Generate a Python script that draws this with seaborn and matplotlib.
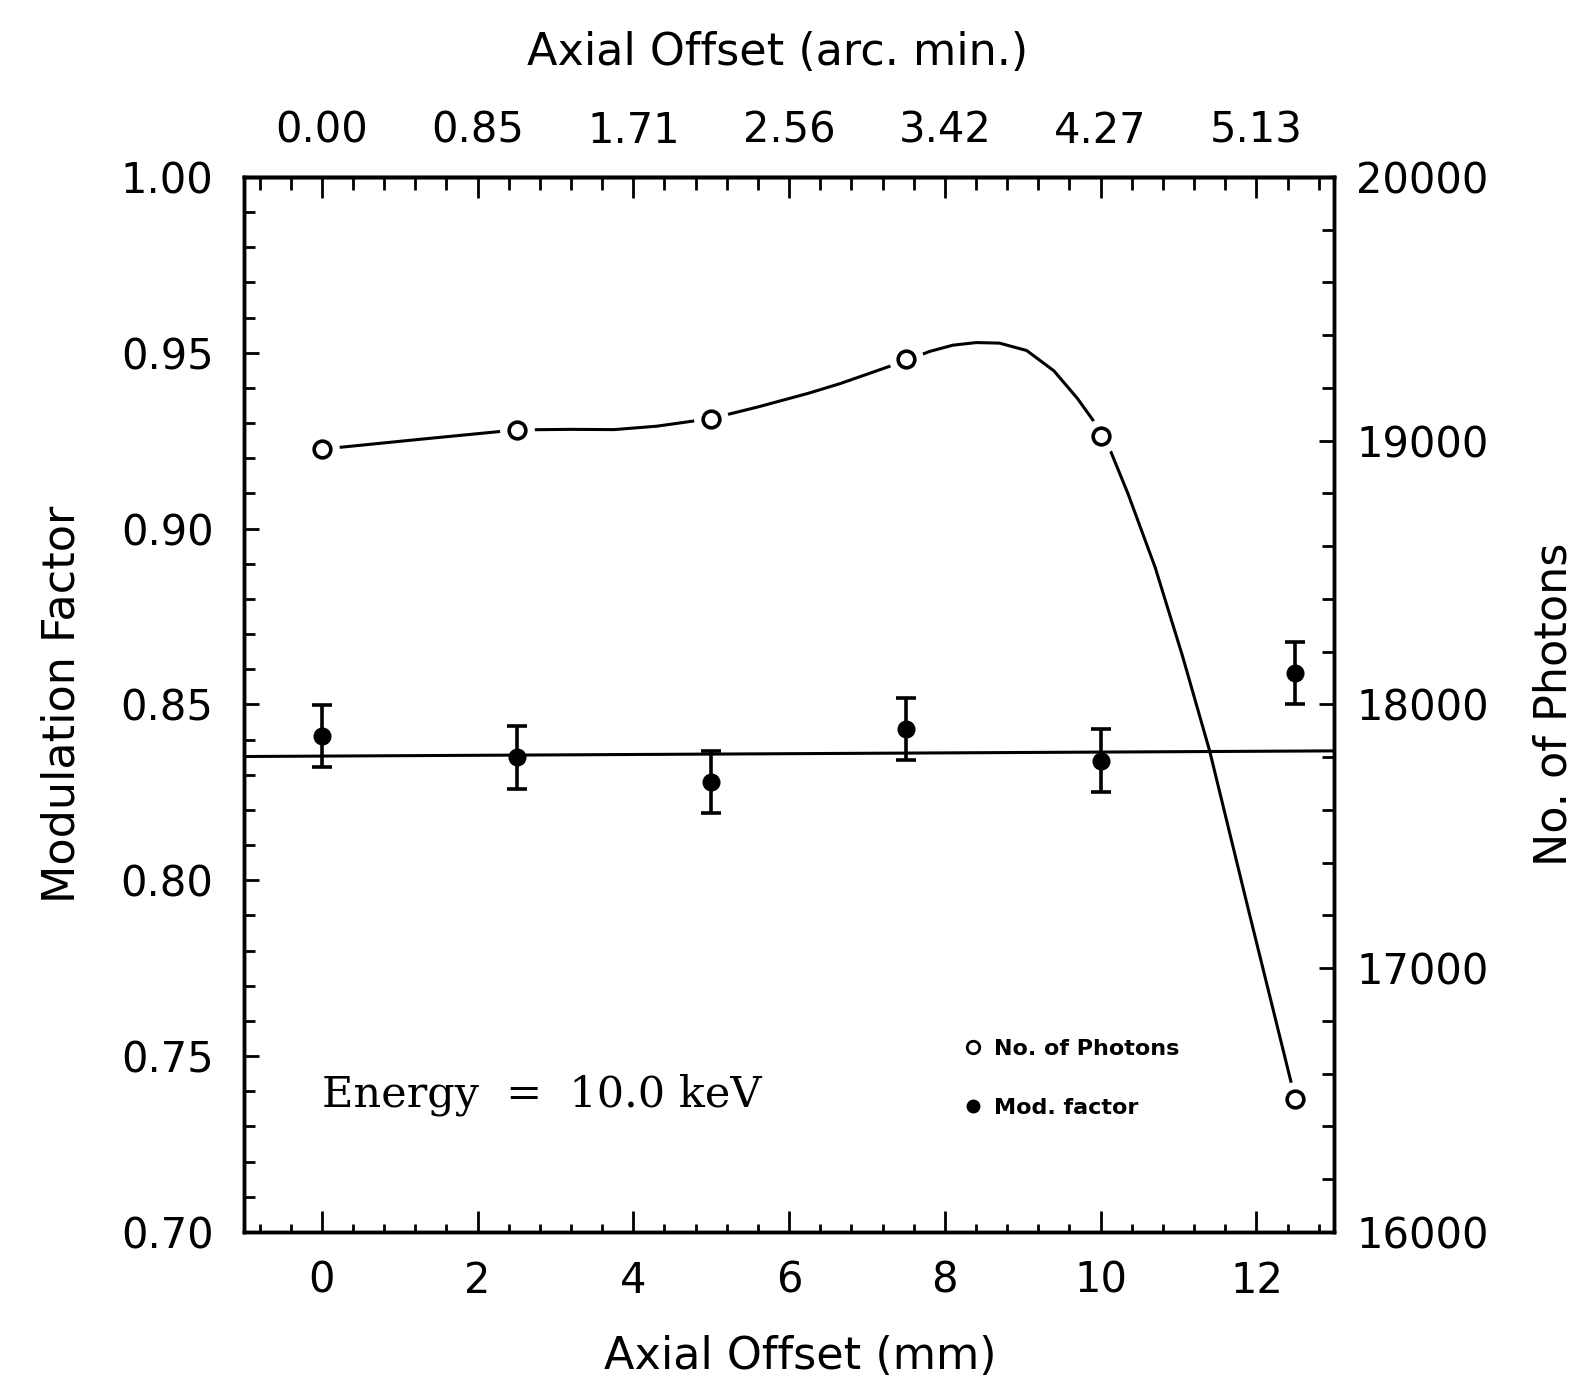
import numpy as np
import pandas as pd
import matplotlib
matplotlib.use("Agg")
import matplotlib.pyplot as plt
import seaborn as sns
from matplotlib.lines import Line2D
from matplotlib.ticker import MultipleLocator

# measured points (axial offset in mm)
offset_mm = [0.0, 2.5, 5.0, 7.5, 10.0, 12.5]
mod_factor = [0.841, 0.835, 0.828, 0.843, 0.834, 0.859]
mod_err = [0.0089, 0.0089, 0.0088, 0.0088, 0.0090, 0.0089]
photons = [18968, 19041, 19084, 19309, 19017, 16503]

# straight fit to the modulation factor
fit_x = [-1.0, 13.0]
fit_y = [0.8352, 0.8368]

# smooth curve through the photon counts
curve_x = [0.0, 1.25, 2.5, 3.2, 3.75, 4.3, 5.0, 5.6, 6.25, 6.65, 7.0, 7.55,
           7.8, 8.1, 8.4, 8.7, 9.05, 9.4, 9.7, 10.05, 10.35, 10.7, 11.05,
           11.4, 11.9, 12.5]
curve_n = [18968, 19005, 19041, 19043, 19042, 19055, 19084, 19128, 19180,
           19216, 19252, 19309, 19338, 19362, 19372, 19370, 19342, 19265,
           19161, 19017, 18800, 18520, 18185, 17824, 17219, 16503]

top_ticks_mm = [0, 2, 4, 6, 8, 10, 12]
top_tick_labels = ["0.00", "0.85", "1.71", "2.56", "3.42", "4.27", "5.13"]

sns.set_style("ticks")
plt.rcParams['font.family'] = ['DejaVu Sans']
for key in ['text.color', 'axes.labelcolor', 'xtick.color', 'ytick.color', 'axes.edgecolor']:
    plt.rcParams[key] = 'black'

fig = plt.figure(figsize=(15.79, 13.90), dpi=100)
ax = fig.add_axes([0.1545, 0.1137, 0.6905, 0.759])

sns.lineplot(x=fit_x, y=fit_y, ax=ax, color='black', lw=2.2, zorder=2)
ax.errorbar(offset_mm, mod_factor, yerr=mod_err, fmt='o', color='black',
            ms=12, capsize=7, elinewidth=2.6, capthick=2.6, zorder=3)

ax.set_xlim(-1, 13)
ax.set_ylim(0.70, 1.00)
ax.set_xticks([0, 2, 4, 6, 8, 10, 12])
ax.set_yticks([0.70, 0.75, 0.80, 0.85, 0.90, 0.95, 1.00])
ax.set_yticklabels([f"{v:.2f}" for v in ax.get_yticks()])
ax.xaxis.set_minor_locator(MultipleLocator(0.4))
ax.yaxis.set_minor_locator(MultipleLocator(0.01))
ax.tick_params(axis='x', which='major', direction='in', length=15, width=2,
               labelsize=30, pad=20, top=False)
ax.tick_params(axis='x', which='minor', direction='in', length=6, width=2, top=False)
ax.tick_params(axis='y', which='major', direction='in', length=11, width=2,
               labelsize=30, pad=22, right=False)
ax.tick_params(axis='y', which='minor', direction='in', length=8, width=2, right=False)

ax2 = ax.twinx()
sns.lineplot(x=curve_x, y=curve_n, ax=ax2, color='black', lw=2.2, sort=False,
             estimator=None, zorder=2)
# white halo leaves the small gap around each open circle
ax2.plot(offset_mm, photons, 'o', ms=24, color='white', zorder=3)
ax2.plot(offset_mm, photons, 'o', ms=12, mfc='white', mec='black', mew=2.6, zorder=4)
ax2.set_ylim(16000, 20000)
ax2.set_yticks([16000, 17000, 18000, 19000, 20000])
ax2.yaxis.set_minor_locator(MultipleLocator(200))
ax2.tick_params(axis='y', which='major', direction='in', length=11, width=2,
                labelsize=30, pad=16)
ax2.tick_params(axis='y', which='minor', direction='in', length=9, width=2)

secax = ax.secondary_xaxis('top')
secax.set_xticks(top_ticks_mm, labels=top_tick_labels)
secax.xaxis.set_minor_locator(MultipleLocator(0.4))
secax.tick_params(axis='x', which='major', direction='in', length=15, width=2,
                  labelsize=30, pad=18)
secax.tick_params(axis='x', which='minor', direction='in', length=9, width=2)

for a in (ax, ax2, secax):
    for sp in a.spines.values():
        sp.set_linewidth(2.5)
        sp.set_color('black')

ax.set_xlabel("Axial Offset (mm)", fontsize=32)
ax.xaxis.set_label_coords(0.51, -0.098)
ax.set_ylabel("Modulation Factor", fontsize=32)
ax.yaxis.set_label_coords(-0.147, 0.5)
ax2.set_ylabel("No. of Photons", fontsize=32)
ax2.yaxis.set_label_coords(1.182, 0.5)
secax.set_xlabel("Axial Offset (arc. min.)", fontsize=32)
secax.xaxis.set_label_coords(0.489, 1.106, transform=ax.transAxes)

ax.text(0.0, 0.739, "Energy  =  10.0 keV", fontsize=31, family='DejaVu Serif',
        va='center', ha='left')

handles = [Line2D([], [], marker='o', ls='none', mfc='white', mec='black', mew=2, ms=9),
           Line2D([], [], marker='o', ls='none', color='black', ms=9)]
ax2.legend(handles, ["No. of Photons", "Mod. factor"], loc='upper left',
           bbox_to_anchor=(0.610, 0.2525), bbox_transform=fig.transFigure,
           frameon=False, prop={'weight': 'bold', 'size': 16},
           handlelength=0.9, handletextpad=0.5, labelspacing=1.75,
           borderpad=0, borderaxespad=0)

fig.savefig("out.png", dpi=100, facecolor='white')
